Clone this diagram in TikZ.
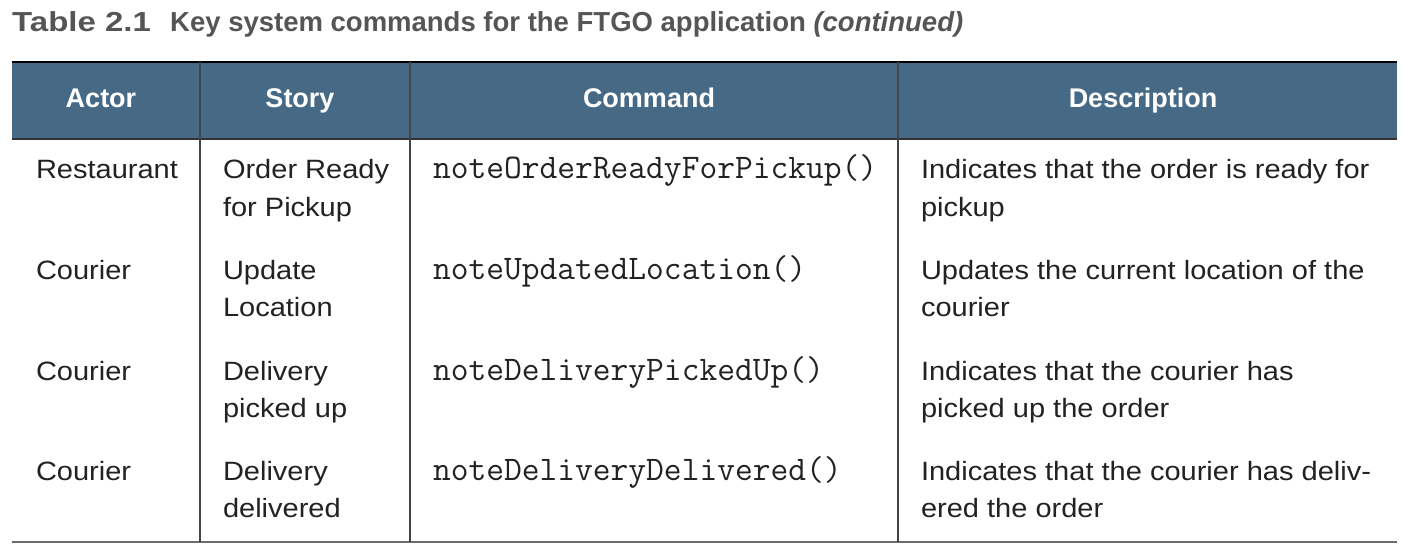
\documentclass[tikz,border=0pt]{standalone}
\usepackage{fontspec}
\setmainfont{Liberation Sans}
\newfontfamily\bodyfont[FakeStretch=1.095]{Liberation Sans}
\newfontfamily\titlefont{Liberation Sans}
\newfontfamily\tablenumfont[FakeStretch=1.2]{Liberation Sans}
\definecolor{hdrblue}{HTML}{466A86}
\definecolor{titlegray}{HTML}{555555}
\definecolor{txt}{HTML}{222222}
\definecolor{rule}{HTML}{444444}
\begin{document}
\begin{tikzpicture}[x=1pt,y=-1pt,
  cell/.style={anchor=base west,inner sep=0pt,outer sep=0pt,text=txt,font=\bodyfont\fontsize{26.5}{30}\selectfont},
  code/.style={anchor=base west,inner sep=0pt,outer sep=0pt,text=txt,font=\ttfamily\fontsize{34.5}{36}\selectfont},
  hdr/.style={anchor=base,inner sep=0pt,outer sep=0pt,text=white,font=\titlefont\bfseries\fontsize{27}{30}\selectfont},
  ttl/.style={anchor=base west,inner sep=0pt,text=titlegray,font=\titlefont\bfseries\fontsize{27.5}{30}\selectfont},
  vrule/.style={draw=rule,line width=1.4pt}]
\useasboundingbox (0,0) rectangle (1413,556);
% title
\node[ttl,font=\tablenumfont\bfseries\fontsize{27.5}{30}\selectfont] (tnum) at (12,32) {Table 2.1};
\node[ttl] (title) at (170,32) {Key system commands for the FTGO application \textit{(continued)}};
% header band
\fill[hdrblue] (12,62) rectangle (1397,139);
\coordinate (tl) at (12,62);
\coordinate (tr) at (1397,62);
\coordinate (hl) at (12,139);
\coordinate (hr) at (1397,139);
\coordinate (bl) at (12,542);
\coordinate (br) at (1397,542);
\draw[black,line width=2.6pt] (tl) -- (tr);
\draw[black!80,line width=1.6pt] (hl) -- (hr);
\draw[gray!85!black,line width=1.8pt] (bl) -- (br);
% column dividers
\foreach \x/\n in {200/a,410/b,898/c}{
  \coordinate (t\n) at (\x,62);
  \coordinate (b\n) at (\x,542);
  \draw[vrule] (t\n) -- (b\n);
}
% header texts
\node[hdr] (hActor) at (101,108) {Actor};
\node[hdr] (hStory) at (300,108) {Story};
\node[hdr] (hCommand) at (649,108) {Command};
\node[hdr] (hDesc) at (1143,108) {Description};
% row 1
\node[cell] (r1a) at (36,179) {Restaurant};
\node[cell] (r1s1) at (223,179) {Order Ready};
\node[cell] (r1s2) at (223,216) {for Pickup};
\node[code] (r1c) at (433,179) {noteOrderReadyForPickup()};
\node[cell] (r1d1) at (921,179) {Indicates that the order is ready for};
\node[cell] (r1d2) at (921,216) {pickup};
% row 2
\node[cell] (r2a) at (36,279) {Courier};
\node[cell] (r2s1) at (223,279) {Update};
\node[cell] (r2s2) at (223,316) {Location};
\node[code] (r2c) at (433,279) {noteUpdatedLocation()};
\node[cell] (r2d1) at (921,279) {Updates the current location of the};
\node[cell] (r2d2) at (921,316) {courier};
% row 3
\node[cell] (r3a) at (36,380) {Courier};
\node[cell] (r3s1) at (223,380) {Delivery};
\node[cell] (r3s2) at (223,417) {picked up};
\node[code] (r3c) at (433,380) {noteDeliveryPickedUp()};
\node[cell] (r3d1) at (921,380) {Indicates that the courier has};
\node[cell] (r3d2) at (921,417) {picked up the order};
% row 4
\node[cell] (r4a) at (36,480) {Courier};
\node[cell] (r4s1) at (223,480) {Delivery};
\node[cell] (r4s2) at (223,517) {delivered};
\node[code] (r4c) at (433,480) {noteDeliveryDelivered()};
\node[cell] (r4d1) at (921,480) {Indicates that the courier has deliv-};
\node[cell] (r4d2) at (921,517) {ered the order};
\end{tikzpicture}
\end{document}
